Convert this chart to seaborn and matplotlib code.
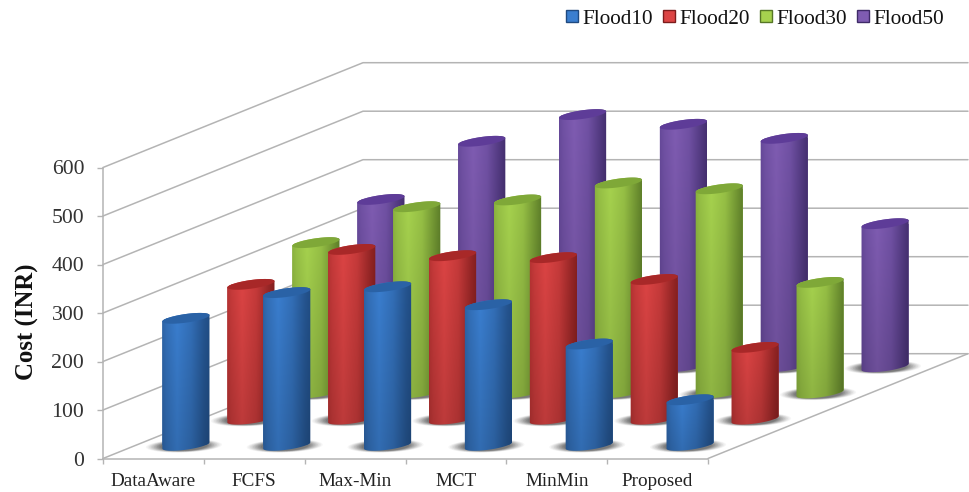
import numpy as np
import pandas as pd
import matplotlib
matplotlib.use("Agg")
import matplotlib.pyplot as plt
from matplotlib.colors import to_rgb
from matplotlib.patches import Patch, Polygon
from matplotlib.path import Path
from matplotlib.transforms import Affine2D
import seaborn as sns

SCHEDULERS = ["DataAware", "FCFS", "Max-Min", "MCT", "MinMin", "Proposed"]
FLOOD10 = [262, 315, 327, 290, 209, 94]
FLOOD20 = [278, 350, 337, 333, 288, 148]
FLOOD30 = [310, 384, 398, 433, 421, 228]
FLOOD50 = [345, 465, 520, 500, 471, 295]
SERIES = ["Flood10", "Flood20", "Flood30", "Flood50"]
VALUES = [FLOOD10, FLOOD20, FLOOD30, FLOOD50]

# edge tone, bright band, right shadow, cap colour
SHADES = {
    "Flood10": ("#2b5f9f", "#3a7ecf", "#1f4a80", "#2a62a6"),
    "Flood20": ("#b03030", "#dc4444", "#7c1c1c", "#a82828"),
    "Flood30": ("#86ad3c", "#a6d24e", "#567626", "#7fa838"),
    "Flood50": ("#624696", "#7f5cb2", "#3f2b68", "#5e3c98"),
}
GREY = "#b4b4b4"

W, H, DPI = 969, 492, 100
LEFT, RIGHT, FLOOR, TOP = 103, 708, 458.5, 167.5
PX_X = (RIGHT - LEFT) / len(SCHEDULERS)
PX_Y = (FLOOR - TOP) / 600
DEPTH_X = 65 / PX_X
DEPTH_Y = 26.2 / PX_Y

sns.set_theme(style="white")
plt.rcParams["font.family"] = ["Liberation Serif", "DejaVu Serif"]

df = pd.DataFrame(
    [(s, c, v) for s, vals in zip(SERIES, VALUES) for c, v in zip(SCHEDULERS, vals)],
    columns=["series", "scheduler", "cost"],
)

fig = plt.figure(figsize=(W / DPI, H / DPI), dpi=DPI, facecolor="white")
ax = fig.add_axes([LEFT / W, 1 - FLOOR / H, (RIGHT - LEFT) / W, (FLOOR - TOP) / H])


def tilted_ellipse(cx, cy, start=0.0, stop=2 * np.pi, a=23.8, b=4.3, deg=8.0):
    """Points of an ellipse whose axes are given in pixels, returned in data units."""
    t = np.linspace(start, stop, 80)
    th = np.radians(deg)
    x = a * np.cos(t) * np.cos(th) - b * np.sin(t) * np.sin(th)
    y = a * np.cos(t) * np.sin(th) + b * np.sin(t) * np.cos(th)
    return np.column_stack([cx + x / PX_X, cy + y / PX_Y])


def band(name):
    """Horizontal cylinder shading, slightly darker towards the floor."""
    edge, bright, shadow, _ = (np.array(to_rgb(c)) for c in SHADES[name])
    stops = [0.0, 0.12, 0.33, 0.6, 0.85, 1.0]
    cols = np.array([edge, 0.5 * (edge + bright), bright,
                     0.5 * (edge + bright), 0.5 * (edge + shadow), shadow])
    u = np.linspace(0, 1, 128)
    row = np.column_stack([np.interp(u, stops, cols[:, k]) for k in range(3)])
    fade = np.linspace(1.0, 0.86, 32)[:, None, None]
    return row[None, :, :] * fade


# Wall and floor lines
n = len(SCHEDULERS)
for v in range(0, 601, 100):
    ax.plot([-0.5, -0.5 + 4 * DEPTH_X, n - 0.5 + 4 * DEPTH_X],
            [v, v + 4 * DEPTH_Y, v + 4 * DEPTH_Y],
            color=GREY, lw=1.1, clip_on=False, zorder=1)
ax.plot([n - 0.5, n - 0.5 + 4 * DEPTH_X], [0, 4 * DEPTH_Y],
        color=GREY, lw=1.1, clip_on=False, zorder=1)

# Back row first so nearer cylinders cover it
for depth in range(len(SERIES) - 1, -1, -1):
    name = SERIES[depth]
    shift = Affine2D().translate((depth + 0.5) * DEPTH_X, (depth + 0.5) * DEPTH_Y)
    trans = shift + ax.transData
    z = 10 + (3 - depth) * 5

    sns.barplot(data=df[df["series"] == name], x="scheduler", y="cost",
                order=SCHEDULERS, color=SHADES[name][0], saturation=1,
                width=47 / PX_X, errorbar=None, ax=ax, transform=trans,
                linewidth=0, zorder=z + 1)

    for bar in ax.containers[-1]:
        x0, w, h = bar.get_x(), bar.get_width(), bar.get_height()
        cx = x0 + w / 2

        # Soft floor shadow beneath the cylinder
        for k, grow in enumerate(np.linspace(1.6, 1.0, 10)):
            ring = tilted_ellipse(cx - 2 / PX_X, -0.5 / PX_Y, a=23.8 * grow,
                                  b=4.3 * (0.55 + 0.6 * grow), deg=2)
            ax.add_patch(Polygon(ring, closed=True, facecolor="#303030", edgecolor="none",
                                 alpha=0.04 + 0.012 * k, transform=trans, zorder=z,
                                 clip_on=False))

        # Outline: far half of the top ellipse joined to the near half of the base
        outline = np.vstack([tilted_ellipse(cx, h, 0, np.pi),
                             tilted_ellipse(cx, 0, np.pi, 2 * np.pi)])
        clip = Path(np.vstack([outline, outline[:1]]), closed=True)

        bar.set_clip_path(clip, trans)
        bar.set_clip_box(fig.bbox)

        img = ax.imshow(band(name), extent=[x0 - 0.02, x0 + w + 0.02, -14, h + 14],
                        aspect="auto", origin="upper", transform=trans,
                        interpolation="bilinear", zorder=z + 2)
        img.set_clip_path(clip, trans)
        img.set_clip_box(fig.bbox)

        ax.add_patch(Polygon(tilted_ellipse(cx, h), closed=True,
                             facecolor=SHADES[name][3], edgecolor="none",
                             transform=trans, zorder=z + 3, clip_on=False))

ax.set_xlim(-0.5, n - 0.5)
ax.set_ylim(0, 600)
ax.set_yticks(range(0, 601, 100))
ax.set_xticks(range(n))
ax.set_xticks(np.arange(-0.5, n), minor=True)
ax.set_xticklabels(SCHEDULERS)
ax.tick_params(axis="y", labelsize=15.7, length=4.5, width=1, color=GREY, pad=9,
               labelcolor="#333333", left=True)
ax.tick_params(axis="x", which="major", length=0, labelsize=13.8, pad=10.5, labelcolor="#222222")
ax.tick_params(axis="x", which="minor", length=3.5, width=1, color=GREY, bottom=True)
ax.set_xlabel("")
ax.set_ylabel("")
ax.patch.set_alpha(0)
sns.despine(ax=ax, top=True, right=True)
for side in ("left", "bottom"):
    ax.spines[side].set_color(GREY)
    ax.spines[side].set_linewidth(1.1)

fig.text(27 / W, 1 - 322 / H, "Cost (INR)", rotation=90, ha="center", va="center",
         fontsize=17.8, fontweight="bold", color="#111111")

handles = [Patch(facecolor=SHADES[s][1], edgecolor=SHADES[s][2], linewidth=1, label=s)
           for s in SERIES]
fig.legend(handles=handles, ncol=4, frameon=False, loc="center left",
           bbox_to_anchor=(566 / W, 1 - 19 / H), borderaxespad=0, borderpad=0,
           fontsize=15.3, handlelength=0.56, handleheight=0.5, handletextpad=0.2,
           columnspacing=0.49, labelcolor="#111111")

fig.savefig("out.png", dpi=DPI, facecolor="white")
